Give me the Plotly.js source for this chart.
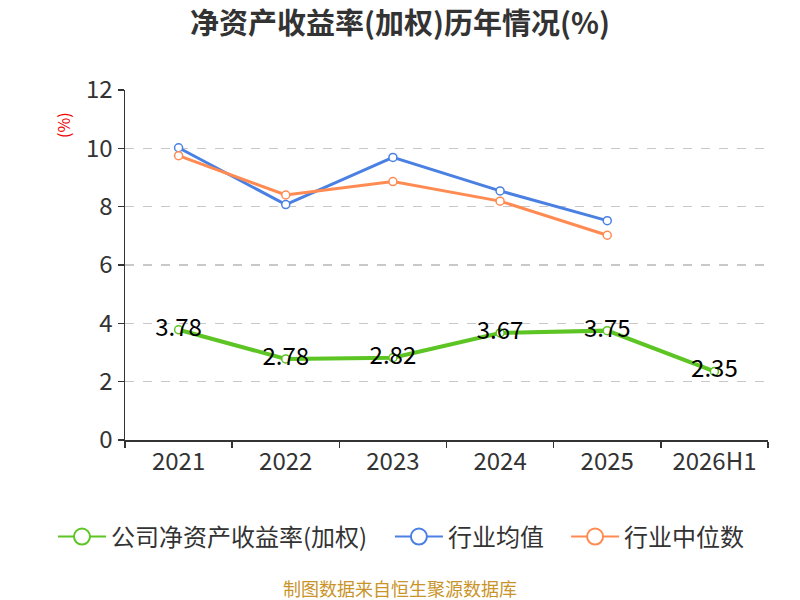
<!DOCTYPE html>
<html>
<head>
<meta charset="utf-8">
<script src="https://cdn.plot.ly/plotly-3.0.1.min.js"></script>
<style>
  body { margin: 0; background: #fff; }
  #chart { width: 800px; height: 600px; }
</style>
</head>
<body>
<div id="chart"></div>
<script>
// values
const years = ['2021', '2022', '2023', '2024', '2025', '2026H1'];
const companyRoe = [3.78, 2.78, 2.82, 3.67, 3.75, 2.35];
const industryAvg = [10.02, 8.07, 9.69, 8.54, 7.52];
const industryMedian = [9.75, 8.40, 8.86, 8.19, 7.02];
const yTicks = [0, 2, 4, 6, 8, 10, 12];

const seriesNames = ['公司净资产收益率(加权)', '行业均值', '行业中位数'];
const seriesColors = ['#5cc524', '#4a80e2', '#ff8b52'];

const FONT = '"Noto Sans CJK SC", "Noto Sans", sans-serif';

function lineTrace(name, y, color, width, withText) {
    let t = {
        x: years.slice(0, y.length),
        y: y,
        name: name,
        type: 'scatter',
        mode: withText ? 'lines+markers+text' : 'lines+markers',
        line: {color: color, width: width},
        marker: {symbol: 'circle', size: 8, color: '#fff', line: {color: color, width: 1.5}},
        showlegend: false,
        cliponaxis: false
    };
    if (withText) {
        t.text = y.map(v => v.toFixed(2));
        t.textposition = 'middle center';
        t.textfont = {family: FONT, size: 24, color: '#000'};
    }
    return t;
}

// legend-only entries with the big hollow circles, one legend each
function legendTrace(name, color, legendId) {
    return {
        x: [null], y: [null], name: name, type: 'scatter', mode: 'lines+markers',
        line: {color: color, width: 2},
        marker: {symbol: 'circle', size: 16, color: '#fff', line: {color: color, width: 2}},
        showlegend: true,
        legend: legendId
    };
}

const traces = [
    lineTrace(seriesNames[1], industryAvg, seriesColors[1], 3, false),
    lineTrace(seriesNames[2], industryMedian, seriesColors[2], 3, false),
    lineTrace(seriesNames[0], companyRoe, seriesColors[0], 4, true),
    legendTrace(seriesNames[0], seriesColors[0], 'legend'),
    legendTrace(seriesNames[1], seriesColors[1], 'legend2'),
    legendTrace(seriesNames[2], seriesColors[2], 'legend3')
];

function legendAt(x) {
    return {
        orientation: 'h',
        x: x, xanchor: 'left',
        y: -0.277, yanchor: 'middle',
        font: {family: FONT, size: 24, color: '#333'},
        itemsizing: 'trace',
        itemwidth: 48,
        bgcolor: 'rgba(0,0,0,0)'
    };
}

const layout = {
    width: 800,
    height: 600,
    margin: {l: 125, r: 32, t: 90, b: 160},
    paper_bgcolor: '#fff',
    plot_bgcolor: '#fff',
    font: {family: FONT, color: '#333'},
    title: {
        text: '<b>净资产收益率(加权)历年情况(%)</b>',
        font: {family: FONT, size: 29, color: '#333'},
        x: 0.5, xanchor: 'center', y: 0.96, yanchor: 'middle'
    },
    xaxis: {
        type: 'category',
        categoryorder: 'array',
        categoryarray: years,
        range: [-0.5, 5.5],
        tickson: 'boundaries',
        ticks: 'outside',
        ticklen: 6,
        tickcolor: '#333',
        tickwidth: 1.5,
        showline: true,
        linecolor: '#333',
        linewidth: 1.5,
        showgrid: false,
        zeroline: false,
        tickfont: {family: FONT, size: 24, color: '#333'}
    },
    yaxis: {
        range: [0, 12],
        tickvals: yTicks,
        ticks: 'outside',
        ticklen: 6,
        tickcolor: '#333',
        tickwidth: 1.5,
        showline: true,
        linecolor: '#333',
        linewidth: 1.5,
        showgrid: true,
        gridcolor: '#c8c8c8',
        griddash: 'dash',
        gridwidth: 1.2,
        zeroline: false,
        tickfont: {family: FONT, size: 24, color: '#333'}
    },
    showlegend: true,
    legend: legendAt(-0.112),
    legend2: legendAt(0.412),
    legend3: legendAt(0.686),
    annotations: [
        {
            text: '(%)', xref: 'paper', yref: 'paper',
            x: -0.0964, y: 0.9, xanchor: 'center', yanchor: 'middle',
            textangle: -90, showarrow: false,
            font: {family: FONT, size: 16, color: '#e00'}
        },
        {
            text: '制图数据来自恒生聚源数据库', xref: 'paper', yref: 'paper',
            x: 0.428, y: -0.423, showarrow: false, xanchor: 'center', yanchor: 'middle',
            font: {family: FONT, size: 18, color: '#c9942a'}
        }
    ]
};

Plotly.newPlot('chart', traces, layout, {displayModeBar: false, staticPlot: true});
</script>
</body>
</html>
